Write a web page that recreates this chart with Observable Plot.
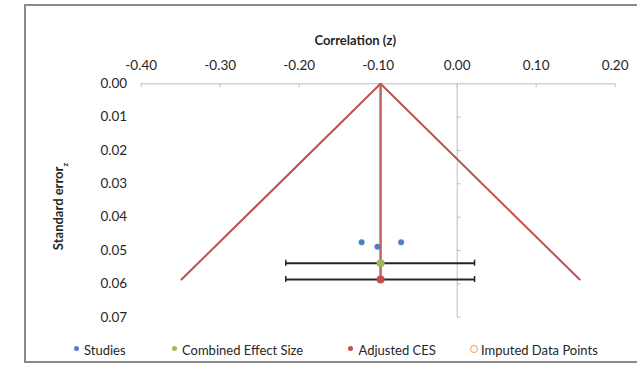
<!DOCTYPE html>
<html>
<head>
<meta charset="utf-8">
<script src="https://cdn.jsdelivr.net/npm/d3@7"></script>
<script src="https://cdn.jsdelivr.net/npm/@observablehq/plot@0.6"></script>
<style>
  html, body { margin: 0; padding: 0; background: #fff; }
  body { width: 637px; height: 365px; overflow: hidden; position: relative; font-family: Lato, "Open Sans", sans-serif; color: #262626; }
  #frame { position: absolute; left: 24px; top: 4px; right: -10px; bottom: 2px; border: 2px solid #8a8a8a; border-right: none; }
  #chart { position: absolute; left: 0; top: 0; }
  #legend { position: absolute; left: 0; top: 340px; width: 637px; height: 25px; font-size: 13px; }
  .item { position: absolute; top: 2px; line-height: 16px; white-space: nowrap; }
  .dot { position: absolute; top: 6px; width: 5px; height: 5px; border-radius: 50%; box-sizing: border-box; }
</style>
</head>
<body>
<div id="frame"></div>
<div id="chart"></div>
<div id="legend"></div>
<script>
// Axis ticks
const xTicks = [-0.40, -0.30, -0.20, -0.10, 0.00, 0.10, 0.20];
const yTicks = [0.00, 0.01, 0.02, 0.03, 0.04, 0.05, 0.06, 0.07];

// Individual studies: effect (z) and standard error
const studyZ  = [-0.121, -0.101, -0.071];
const studySE = [0.0475, 0.0489, 0.0475];

// Combined effect size and its confidence interval
const cesZ = [-0.097];
const cesSE = [0.0538];
const cesLow = [-0.217];
const cesHigh = [0.022];

// Adjusted combined effect size (trim and fill)
const adjZ = [-0.097];
const adjSE = [0.0587];
const adjLow = [-0.217];
const adjHigh = [0.022];

// Imputed data points (none)
const imputedZ = [];
const imputedSE = [];

// Funnel: apex at the adjusted effect, edges out to the largest SE
const funnelZ  = [-0.349, -0.097, 0.155];
const funnelSE = [0.0587, 0.0, 0.0587];

const colors = {
  studies: "#4f81bd",
  ces: "#9bbb59",
  adj: "#c0504d",
  imputed: "#f79646",
  axis: "#bfbfbf",
  bar: "#262626"
};

const studies = studyZ.map((z, i) => ({z, se: studySE[i]}));
const ces = cesZ.map((z, i) => ({z, se: cesSE[i], lo: cesLow[i], hi: cesHigh[i]}));
const adj = adjZ.map((z, i) => ({z, se: adjSE[i], lo: adjLow[i], hi: adjHigh[i]}));
const imputed = imputedZ.map((z, i) => ({z, se: imputedSE[i]}));
const funnel = funnelZ.map((z, i) => ({z, se: funnelSE[i]}));
const bars = [...ces, ...adj];

// two decimals with a plain hyphen for negatives
const fmt = d => d3.format(".2f")(d).replace("\u2212", "-");

const plot = Plot.plot({
  width: 637,
  height: 340,
  marginLeft: 140.7,
  marginRight: 22.3,
  marginTop: 83.3,
  marginBottom: 23.3,
  style: {fontFamily: "Lato, 'Open Sans', sans-serif", fontSize: "13.5px", color: "#262626", background: "transparent"},
  x: {domain: [-0.4, 0.2]},
  y: {domain: [0, 0.07], reverse: true},
  marks: [
    // axis lines and inward ticks
    Plot.ruleY([0], {x1: -0.4, x2: 0.2, stroke: colors.axis, strokeWidth: 1}),
    Plot.ruleX(xTicks, {x: d => d, y1: 0, y2: 0, insetBottom: -4, stroke: colors.axis}),
    Plot.ruleX([0], {y1: 0, y2: 0.07, stroke: colors.axis, strokeWidth: 1}),
    Plot.ruleY(yTicks.slice(1), {y: d => d, x1: 0, x2: 0, insetRight: -4, stroke: colors.axis}),
    Plot.axisX(xTicks, {anchor: "top", tickSize: 0, tickPadding: 14, tickFormat: fmt, label: null, fontSize: 13.5}),
    Plot.axisY(yTicks, {anchor: "left", tickSize: 0, tickPadding: 14, tickFormat: fmt, label: null, fontSize: 13.5}),
    Plot.text(["Correlation (z)"], {frameAnchor: "top", dx: -23, dy: -48, fontWeight: "bold", fontSize: 13}),
    Plot.text(["Standard error"], {frameAnchor: "left", textAnchor: "middle", dx: -82, dy: 6, rotate: -90, fontWeight: "bold", fontSize: 13}),
    // funnel
    Plot.line(funnel, {x: "z", y: "se", stroke: colors.adj, strokeWidth: 2}),
    Plot.ruleX(adj, {x: "z", y1: 0, y2: "se", stroke: colors.adj, strokeWidth: 2.5, strokeOpacity: 0.9}),
    // confidence intervals with caps
    Plot.ruleY(bars, {y: "se", x1: "lo", x2: "hi", stroke: colors.bar, strokeWidth: 2}),
    Plot.ruleX(bars, {x: "lo", y1: "se", y2: "se", insetTop: -3, insetBottom: -3, stroke: colors.bar, strokeWidth: 1.5}),
    Plot.ruleX(bars, {x: "hi", y1: "se", y2: "se", insetTop: -3, insetBottom: -3, stroke: colors.bar, strokeWidth: 1.5}),
    // points
    Plot.dot(studies, {x: "z", y: "se", r: 3, fill: colors.studies}),
    Plot.dot(imputed, {x: "z", y: "se", r: 3.5, stroke: colors.imputed, strokeWidth: 1.5}),
    Plot.dot(ces, {x: "z", y: "se", r: 4, fill: colors.ces}),
    Plot.dot(adj, {x: "z", y: "se", r: 4, fill: colors.adj})
  ]
});

// subscript on the y-axis title
d3.select(plot).selectAll("text").filter(function() { return this.textContent === "Standard error"; })
  .append("tspan").attr("baseline-shift", "sub").attr("font-size", "8px").text("z");

document.getElementById("chart").appendChild(plot);

// legend
const legendItems = [
  {label: "Studies", color: colors.studies, dot: 76.5, text: 84, open: false},
  {label: "Combined Effect Size", color: colors.ces, dot: 174, text: 182, open: false},
  {label: "Adjusted CES", color: colors.adj, dot: 350, text: 358.5, open: false},
  {label: "Imputed Data Points", color: colors.imputed, dot: 474, text: 481, open: true}
];
const legend = d3.select("#legend");
for (const it of legendItems) {
  const d = legend.append("div").attr("class", "dot")
    .style("left", (it.dot - 2.5) + "px");
  if (it.open) {
    d.style("border", `1.6px solid ${it.color}`).style("width", "8px").style("height", "8px")
     .style("left", (it.dot - 4) + "px").style("top", "4.5px");
  } else {
    d.style("background", it.color);
  }
  legend.append("div").attr("class", "item").style("left", it.text + "px").text(it.label);
}
</script>
</body>
</html>
